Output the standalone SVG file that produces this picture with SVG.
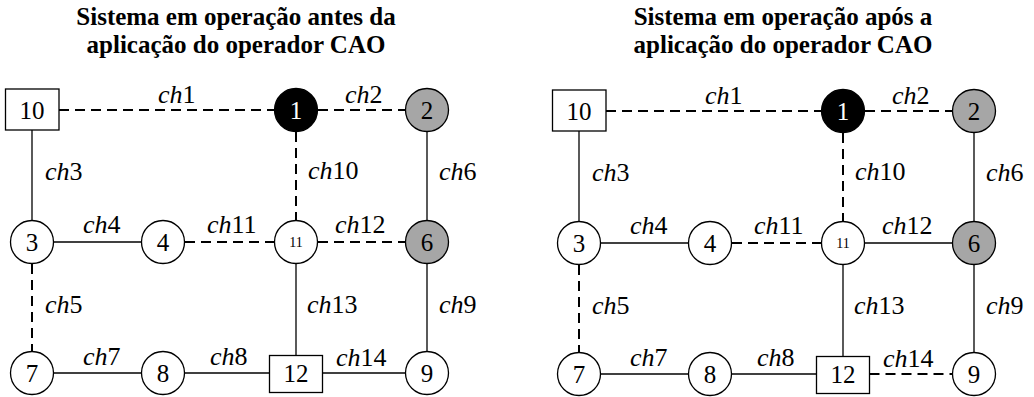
<svg xmlns="http://www.w3.org/2000/svg" width="1034" height="397" viewBox="0 0 1034 397" font-family="'Liberation Serif', 'Times New Roman', Times, 'DejaVu Serif', serif">
<style>
text{font-family:'Liberation Serif','Times New Roman',Times,'DejaVu Serif',serif}
.title{font-weight:bold;font-size:25px;text-anchor:middle;fill:#000}
.nd{fill:#fff;stroke:#000;stroke-width:1.3}
.blk{fill:#000;stroke:#000;stroke-width:1.3}
.gry{fill:#a6a6a6;stroke:#000;stroke-width:1.3}
.nt{font-size:25px;text-anchor:middle;fill:#000}
.ntw{font-size:25px;text-anchor:middle;fill:#fff}
.ns{font-size:14px;text-anchor:middle;fill:#000}
.lb{font-size:26px;fill:#000}
.it{font-style:italic}
.sol{stroke:#000;stroke-width:1.3;fill:none}
.dsh{stroke:#000;stroke-width:2;fill:none;stroke-dasharray:10 6}
</style>
<defs>
<g id="lbls">
<text class="lb" x="158" y="103"><tspan class="it">ch</tspan>1</text>
<text class="lb" x="345" y="103"><tspan class="it">ch</tspan>2</text>
<text class="lb" x="45" y="180"><tspan class="it">ch</tspan>3</text>
<text class="lb" x="308" y="179"><tspan class="it">ch</tspan>10</text>
<text class="lb" x="439" y="180"><tspan class="it">ch</tspan>6</text>
<text class="lb" x="83" y="233"><tspan class="it">ch</tspan>4</text>
<text class="lb" x="207" y="233"><tspan class="it">ch</tspan>11</text>
<text class="lb" x="335" y="233"><tspan class="it">ch</tspan>12</text>
<text class="lb" x="45" y="313"><tspan class="it">ch</tspan>5</text>
<text class="lb" x="307" y="313"><tspan class="it">ch</tspan>13</text>
<text class="lb" x="439" y="313"><tspan class="it">ch</tspan>9</text>
<text class="lb" x="83" y="365"><tspan class="it">ch</tspan>7</text>
<text class="lb" x="210" y="365"><tspan class="it">ch</tspan>8</text>
<text class="lb" x="336" y="366"><tspan class="it">ch</tspan>14</text>
</g>
</defs>

<text class="title" x="236" y="25">Sistema em operação antes da</text>
<text class="title" x="236" y="53">aplicação do operador CAO</text>
<text class="title" x="783" y="25">Sistema em operação após a</text>
<text class="title" x="783" y="53">aplicação do operador CAO</text>

<!-- LEFT DIAGRAM -->
<g id="left">
<g id="left-connectors">
<line class="dsh" x1="59" y1="110" x2="274" y2="110"/>
<line class="dsh" x1="318" y1="110" x2="405" y2="110"/>
<line class="sol" x1="32" y1="130" x2="32" y2="220"/>
<line class="dsh" x1="296" y1="132" x2="296" y2="220"/>
<line class="sol" x1="427" y1="132" x2="427" y2="220"/>
<line class="sol" x1="54" y1="242" x2="141" y2="242"/>
<line class="dsh" x1="185" y1="242" x2="274" y2="242"/>
<line class="dsh" x1="318" y1="242" x2="405" y2="242"/>
<line class="dsh" x1="32" y1="264" x2="32" y2="351"/>
<line class="sol" x1="296" y1="264" x2="296" y2="355.5"/>
<line class="sol" x1="427" y1="264" x2="427" y2="351"/>
<line class="sol" x1="54" y1="373" x2="141" y2="373"/>
<line class="sol" x1="185" y1="373" x2="269.5" y2="373"/>
<line class="sol" x1="322.5" y1="373" x2="405" y2="373"/>
<use href="#lbls"/>
</g>
<g id="L-n10"><rect class="nd" x="5.5" y="89" width="53.5" height="41"/><text class="nt" x="32" y="119">10</text></g>
<g id="L-n1"><circle class="blk" cx="296" cy="110" r="21.5"/><text class="ntw" x="296" y="119">1</text></g>
<g id="L-n2"><circle class="gry" cx="427" cy="110" r="21.5"/><text class="nt" x="427" y="119">2</text></g>
<g id="L-n3"><circle class="nd" cx="32" cy="242" r="21.5"/><text class="nt" x="32" y="251">3</text></g>
<g id="L-n4"><circle class="nd" cx="163" cy="242" r="21.5"/><text class="nt" x="163" y="251">4</text></g>
<g id="L-n11"><circle class="nd" cx="296" cy="242" r="21.5"/><text class="ns" x="296" y="247">11</text></g>
<g id="L-n6"><circle class="gry" cx="427" cy="242" r="21.5"/><text class="nt" x="427" y="251">6</text></g>
<g id="L-n7"><circle class="nd" cx="32" cy="373" r="21.5"/><text class="nt" x="32" y="382">7</text></g>
<g id="L-n8"><circle class="nd" cx="163" cy="373" r="21.5"/><text class="nt" x="163" y="382">8</text></g>
<g id="L-n12"><rect class="nd" x="269.5" y="355.5" width="53" height="37"/><text class="nt" x="296" y="382">12</text></g>
<g id="L-n9"><circle class="nd" cx="427" cy="373" r="21.5"/><text class="nt" x="427" y="382">9</text></g>
</g>

<!-- RIGHT DIAGRAM -->
<g id="right" transform="translate(547,1)">
<g id="right-connectors">
<line class="dsh" x1="59" y1="110" x2="274" y2="110"/>
<line class="dsh" x1="318" y1="110" x2="405" y2="110"/>
<line class="sol" x1="32" y1="130" x2="32" y2="220"/>
<line class="dsh" x1="296" y1="132" x2="296" y2="220"/>
<line class="sol" x1="427" y1="132" x2="427" y2="220"/>
<line class="sol" x1="54" y1="242" x2="141" y2="242"/>
<line class="dsh" x1="185" y1="242" x2="274" y2="242"/>
<line class="sol" x1="318" y1="242" x2="405" y2="242"/>
<line class="dsh" x1="32" y1="264" x2="32" y2="351"/>
<line class="sol" x1="296" y1="264" x2="296" y2="355.5"/>
<line class="sol" x1="427" y1="264" x2="427" y2="351"/>
<line class="sol" x1="54" y1="373" x2="141" y2="373"/>
<line class="sol" x1="185" y1="373" x2="269.5" y2="373"/>
<line class="dsh" x1="322.5" y1="373" x2="405" y2="373"/>
<use href="#lbls"/>
</g>
<g id="R-n10"><rect class="nd" x="5.5" y="89" width="53.5" height="41"/><text class="nt" x="32" y="119">10</text></g>
<g id="R-n1"><circle class="blk" cx="296" cy="110" r="21.5"/><text class="ntw" x="296" y="119">1</text></g>
<g id="R-n2"><circle class="gry" cx="427" cy="110" r="21.5"/><text class="nt" x="427" y="119">2</text></g>
<g id="R-n3"><circle class="nd" cx="32" cy="242" r="21.5"/><text class="nt" x="32" y="251">3</text></g>
<g id="R-n4"><circle class="nd" cx="163" cy="242" r="21.5"/><text class="nt" x="163" y="251">4</text></g>
<g id="R-n11"><circle class="nd" cx="296" cy="242" r="21.5"/><text class="ns" x="296" y="247">11</text></g>
<g id="R-n6"><circle class="gry" cx="427" cy="242" r="21.5"/><text class="nt" x="427" y="251">6</text></g>
<g id="R-n7"><circle class="nd" cx="32" cy="373" r="21.5"/><text class="nt" x="32" y="382">7</text></g>
<g id="R-n8"><circle class="nd" cx="163" cy="373" r="21.5"/><text class="nt" x="163" y="382">8</text></g>
<g id="R-n12"><rect class="nd" x="269.5" y="355.5" width="53" height="37"/><text class="nt" x="296" y="382">12</text></g>
<g id="R-n9"><circle class="nd" cx="427" cy="373" r="21.5"/><text class="nt" x="427" y="382">9</text></g>
</g>
</svg>
